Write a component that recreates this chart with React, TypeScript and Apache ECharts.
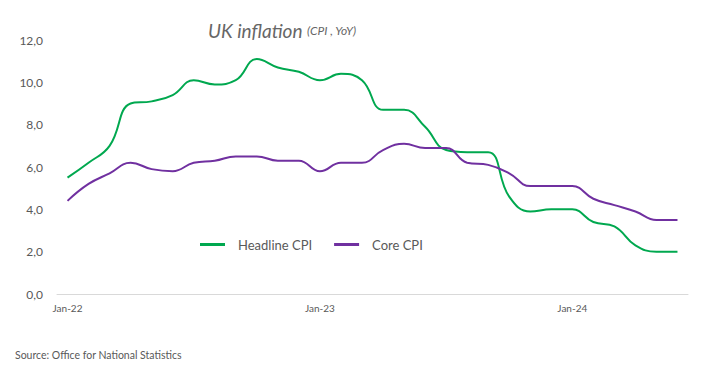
import React, { useEffect, useRef } from "react";
import * as echarts from "echarts";

const months = [
  "Jan-22","Feb-22","Mar-22","Apr-22","May-22","Jun-22","Jul-22","Aug-22","Sep-22","Oct-22","Nov-22","Dec-22",
  "Jan-23","Feb-23","Mar-23","Apr-23","May-23","Jun-23","Jul-23","Aug-23","Sep-23","Oct-23","Nov-23","Dec-23",
  "Jan-24","Feb-24","Mar-24","Apr-24","May-24","Jun-24",
];
const headlineCPI = [
  5.5, 6.2, 7.0, 9.0, 9.1, 9.4, 10.1, 9.9, 10.1, 11.1, 10.7, 10.5,
  10.1, 10.4, 10.1, 8.7, 8.7, 7.9, 6.8, 6.7, 6.7, 4.6, 3.9, 4.0,
  4.0, 3.4, 3.2, 2.3, 2.0, 2.0,
];
const coreCPI = [
  4.4, 5.2, 5.7, 6.2, 5.9, 5.8, 6.2, 6.3, 6.5, 6.5, 6.3, 6.3,
  5.8, 6.2, 6.2, 6.8, 7.1, 6.9, 6.9, 6.2, 6.1, 5.7, 5.1, 5.1,
  5.1, 4.5, 4.2, 3.9, 3.5, 3.5,
];

const FONT = "Lato";
const GREY = "#595959";

export default function App() {
  const ref = useRef<HTMLDivElement>(null);
  useEffect(() => {
    if (!ref.current) return;
    const chart = echarts.init(ref.current, undefined, { renderer: "svg" });
    chart.setOption({
      animation: false,
      backgroundColor: "#ffffff",
      textStyle: { fontFamily: FONT },
      title: {
        left: 203,
        top: 16,
        text: "{a|UK inflation} {b|(CPI , YoY)}",
        textStyle: {
          fontWeight: "normal",
          rich: {
            a: { fontFamily: FONT, fontSize: 19, fontStyle: "italic", fontWeight: "normal", color: "#666666" },
            b: { fontFamily: FONT, fontSize: 12, fontStyle: "italic", fontWeight: "normal", color: "#666666" },
          },
        },
      },
      legend: {
        left: 195,
        top: 233,
        itemWidth: 25,
        itemHeight: 3,
        itemGap: 22,
        icon: "rect",
        textStyle: { fontFamily: FONT, fontSize: 13, color: GREY, padding: [0, 0, 0, 8] },
        data: ["Headline CPI", "Core CPI"],
      },
      grid: { left: 57, right: 29, top: 40, bottom: 88, containLabel: false },
      xAxis: {
        type: "category",
        data: months,
        boundaryGap: true,
        splitLine: { show: false },
        axisLine: { show: true, lineStyle: { color: "#d9d9d9", width: 1 } },
        axisTick: { show: false },
        axisLabel: {
          interval: 11,
          fontFamily: FONT,
          fontSize: 10,
          color: GREY,
          margin: 9,
        },
      },
      yAxis: {
        type: "value",
        min: 0,
        max: 12,
        interval: 2,
        splitLine: { show: false },
        axisLine: { show: false },
        axisTick: { show: false },
        axisLabel: {
          formatter: (v: number) => v.toFixed(1).replace(".", ","),
          fontFamily: FONT,
          fontSize: 12,
          color: GREY,
          margin: 14,
        },
      },
      series: [
        {
          name: "Headline CPI",
          type: "line",
          smooth: 0.45,
          symbol: "none",
          data: headlineCPI,
          lineStyle: { color: "#00a84f", width: 2 },
          itemStyle: { color: "#00a84f" },
        },
        {
          name: "Core CPI",
          type: "line",
          smooth: 0.45,
          symbol: "none",
          data: coreCPI,
          lineStyle: { color: "#7030a0", width: 2 },
          itemStyle: { color: "#7030a0" },
        },
      ],
      graphic: [
        {
          type: "text",
          left: 15,
          top: 349,
          style: {
            text: "Source: Office for National Statistics",
            fontFamily: FONT,
            fontSize: 10.5,
            fill: GREY,
          },
        },
      ],
    });
    return () => chart.dispose();
  }, []);
  return <div ref={ref} style={{ width: 717, height: 382, position: "absolute", left: 0, top: 0 }} />;
}
